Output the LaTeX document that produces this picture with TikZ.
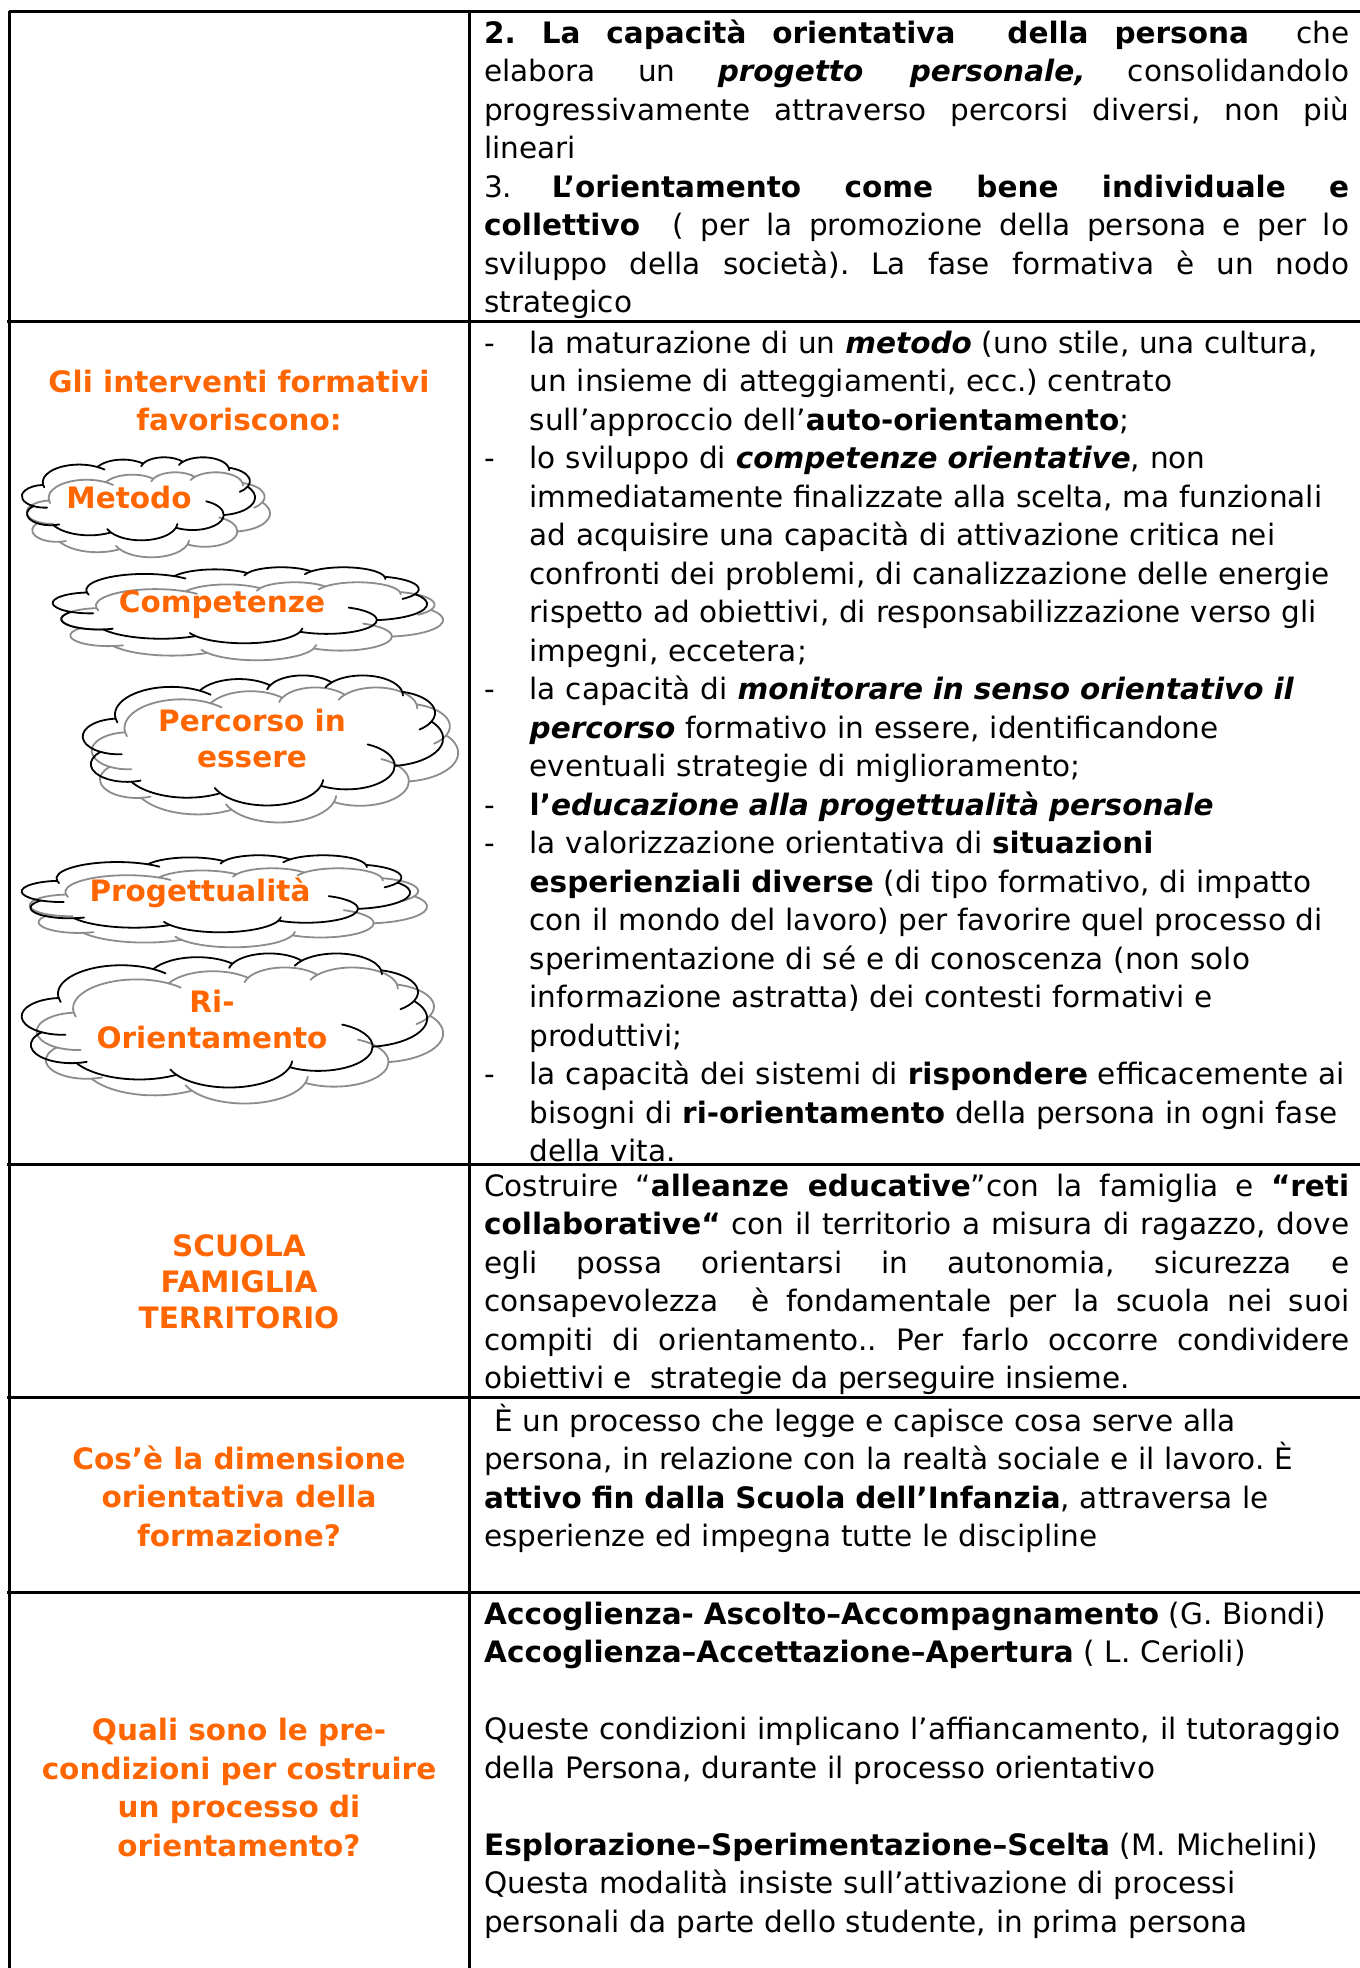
\documentclass[tikz,border=0pt]{standalone}
\usepackage{fontspec}
\setmainfont{DejaVu Sans}
\usepackage{xcolor}
\usetikzlibrary{positioning}
\definecolor{arancio}{HTML}{FF6600}
\definecolor{ombra}{HTML}{8C8C8C}

\tikzset{
  griglia/.style={line width=3pt},
  corpo/.style={anchor=base west,inner sep=0pt,font=\fontsize{29.5}{38.5}\selectfont\frenchspacing},
  giusto/.style={corpo,text width=865pt,align=justify},
  titolo/.style={anchor=base,inner sep=0pt,align=center,text=arancio,font=\fontsize{29.5}{38.5}\selectfont\bfseries},
  nuvtesto/.style={inner sep=0pt,align=center,text=arancio,font=\fontsize{29.5}{36}\selectfont\bfseries},
  tratto/.style={line width=1.8pt,line cap=round,line join=round},
}
\newcommand{\trattino}{\noindent\hangindent=45.5pt\hangafter=1\makebox[45.5pt][l]{-}}
% nuvola: colore, x sinistra, y alto, larghezza, altezza
\newcommand{\nuvola}[5]{%
  \pgfmathsetmacro\nubx{#4/432}\pgfmathsetmacro\nuby{#5/432}%
  \begin{scope}[shift={(#2,#3)},x=\nubx pt,y=-\nuby pt]
  \draw[tratto,#1] (39.00,143.70)
    arc[start angle=172.25,end angle=300.37,x radius=67.53,y radius=91.90]
    arc[start angle=-152.02,end angle=-45.45,x radius=53.33,y radius=72.67]
    arc[start angle=-153.49,end angle=-37.32,x radius=43.65,y radius=59.45]
    arc[start angle=-139.70,end angle=-10.22,x radius=48.57,y radius=65.95]
    arc[start angle=-74.77,end angle=23.21,x radius=53.33,y radius=72.73]
    arc[start angle=-37.52,end angle=81.86,x radius=67.75,y radius=92.20]
    arc[start angle=0.46,end angle=121.99,x radius=57.85,y radius=78.67]
    arc[start angle=16.84,end angle=146.23,x radius=67.52,y radius=92.15]
    arc[start angle=58.98,end angle=150.19,x radius=77.20,y radius=105.43]
    arc[start angle=83.31,end angle=223.12,x radius=43.60,y radius=59.18]
    arc[start angle=120.35,end angle=264.11,x radius=43.45,y radius=59.45]
    -- cycle;
  % riccioli interni
  \draw[tratto,#1]
    (43.06,204.17) ++(85.54:43.45 and 59.45) arc[start angle=85.54,end angle=120.35,x radius=43.45,y radius=59.45]
    (52.93,295.92) ++(68.23:43.60 and 59.18) arc[start angle=68.23,end angle=83.31,x radius=43.60,y radius=59.18]
    (220.91,341.43) ++(146.23:67.52 and 92.15) arc[start angle=146.23,end angle=158.47,x radius=67.52,y radius=92.15]
    (220.91,341.43) ++(4.74:67.52 and 92.15) arc[start angle=4.74,end angle=16.84,x radius=67.52,y radius=92.15]
    (316.18,301.40) ++(-64.03:57.85 and 78.67) arc[start angle=-64.03,end angle=0.46,x radius=57.85,y radius=78.67]
    (369.17,125.95) ++(23.21:53.33 and 72.73) arc[start angle=23.21,end angle=49.64,x radius=53.33,y radius=72.73]
    (335.38,67.47) ++(-10.22:48.57 and 65.95) arc[start angle=-10.22,end angle=0.82,x radius=48.57,y radius=65.95]
    (335.38,67.47) ++(-156.29:48.57 and 65.95) arc[start angle=-156.29,end angle=-139.70,x radius=48.57,y radius=65.95]
    (263.62,60.85) ++(-167.72:43.65 and 59.45) arc[start angle=-167.72,end angle=-153.49,x radius=43.65,y radius=59.45]
    (105.91,131.31) ++(-59.63:67.53 and 91.90) arc[start angle=-59.63,end angle=-45.74,x radius=67.53,y radius=91.90]
    (105.91,131.31) ++(163.19:67.53 and 91.90) arc[start angle=163.19,end angle=172.25,x radius=67.53,y radius=91.90];
  \end{scope}}

\begin{document}
\begin{tikzpicture}[x=1pt,y=-1pt]
\fill[white] (0,0) rectangle (1360,1968);
\useasboundingbox (0,0) rectangle (1360,1968);
% griglia della tabella
\draw[griglia] (9,11) -- (1360,11);
\draw[griglia] (9,11) -- (9,1968);
\draw[griglia] (469,11) -- (469,1968);
\foreach \y in {321,1164,1397,1592}
  \draw[griglia] (7,\y) -- (1360,\y);

% riga 1
\node[giusto] (capacita) at (484,43) {\noindent
\textbf{2. La capacità orientativa \ della persona} \ che\linebreak
elabora un \textbf{\textit{progetto personale,}} consolidandolo\linebreak
progressivamente attraverso percorsi diversi, non più\linebreak
lineari\par\noindent
3. \textbf{L’orientamento come bene individuale e}\linebreak
\textbf{collettivo} \ ( per la promozione della persona e per lo\linebreak
sviluppo della società). La fase formativa è un nodo\linebreak
strategico};

% riga 2
\node[titolo] (interventi) at (239,430.5) {Gli interventi formativi\\favoriscono:};

\nuvola{ombra}{27}{472}{243}{85}
\nuvola{black}{22}{457}{233}{83}
\node[nuvtesto] (txtMetodo) at (129,497) {Metodo};

\nuvola{ombra}{62}{582}{381}{78}
\nuvola{black}{53}{567}{374}{76}
\node[nuvtesto] (txtCompetenze) at (222,605) {Competenze};

\nuvola{ombra}{92}{687}{366}{135}
\nuvola{black}{83}{675}{360}{130}
\node[nuvtesto] (txtPercorso) at (252,738.5) {Percorso in\\essere};

\nuvola{ombra}{30}{868}{397}{79}
\nuvola{black}{22}{855}{388}{77}
\node[nuvtesto] (txtProgetto) at (200,893) {Progettualità};

\nuvola{ombra}{37}{967}{406}{136}
\nuvola{black}{22}{953}{405}{134}
\node[nuvtesto] (txtRiorient) at (212,1019.5) {Ri-\\Orientamento};

\node[corpo,text width=876pt] (favoriscono) at (484,353) {%
\trattino la maturazione di un \textbf{\textit{metodo}} (uno stile, una cultura,\newline
un insieme di atteggiamenti, ecc.) centrato\newline
sull’approccio dell’\textbf{auto-orientamento};\par
\trattino lo sviluppo di \textbf{\textit{competenze orientative}}, non\newline
immediatamente finalizzate alla scelta, ma funzionali\newline
ad acquisire una capacità di attivazione critica nei\newline
confronti dei problemi, di canalizzazione delle energie\newline
rispetto ad obiettivi, di responsabilizzazione verso gli\newline
impegni, eccetera;\par
\trattino la capacità di \textbf{\textit{monitorare in senso orientativo il}}\newline
\textbf{\textit{percorso}} formativo in essere, identificandone\newline
eventuali strategie di miglioramento;\par
\trattino \textbf{l’\textit{educazione alla progettualità personale}}\par
\trattino la valorizzazione orientativa di \textbf{situazioni}\newline
\textbf{esperienziali diverse} (di tipo formativo, di impatto\newline
con il mondo del lavoro) per favorire quel processo di\newline
sperimentazione di sé e di conoscenza (non solo\newline
informazione astratta) dei contesti formativi e\newline
produttivi;\par
\trattino la capacità dei sistemi di \textbf{rispondere} efficacemente ai\newline
bisogni di \textbf{ri-orientamento} della persona in ogni fase\newline
della vita.\par};

% riga 3
\node[titolo,font=\fontsize{29.5}{36}\selectfont\bfseries] (scuola) at (239,1328) {SCUOLA\\FAMIGLIA\\TERRITORIO};
\node[giusto] (alleanze) at (484,1196) {\noindent
Costruire “\textbf{alleanze educative}”con la famiglia e \textbf{“reti}\linebreak
\textbf{collaborative“} con il territorio a misura di ragazzo, dove\linebreak
egli possa orientarsi in autonomia, sicurezza e\linebreak
consapevolezza \ è fondamentale per la scuola nei suoi\linebreak
compiti di orientamento.. Per farlo occorre condividere\linebreak
obiettivi e \ strategie da perseguire insieme.};

% riga 4
\node[titolo] (dimensione) at (239,1546) {Cos’è la dimensione\\orientativa della\\formazione?};
\node[corpo,text width=876pt] (processo) at (484,1431) {\noindent
\hspace*{10pt}È un processo che legge e capisce cosa serve alla\newline
persona, in relazione con la realtà sociale e il lavoro. È\newline
\textbf{attivo fin dalla Scuola dell’Infanzia}, attraversa le\newline
esperienze ed impegna tutte le discipline};

% riga 5
\node[titolo] (precondizioni) at (239,1856) {Quali sono le pre-\\condizioni per costruire\\un processo di\\orientamento?};
\node[corpo,text width=876pt] (accoglienza) at (484,1624) {\noindent
\textbf{Accoglienza- Ascolto–Accompagnamento} (G. Biondi)\newline
\textbf{Accoglienza–Accettazione–Apertura} ( L. Cerioli)\newline
\mbox{}\newline
Queste condizioni implicano l’affiancamento, il tutoraggio\newline
della Persona, durante il processo orientativo\newline
\mbox{}\newline
\textbf{Esplorazione–Sperimentazione–Scelta} (M. Michelini)\newline
Questa modalità insiste sull’attivazione di processi\newline
personali da parte dello studente, in prima persona};
\end{tikzpicture}
\end{document}
